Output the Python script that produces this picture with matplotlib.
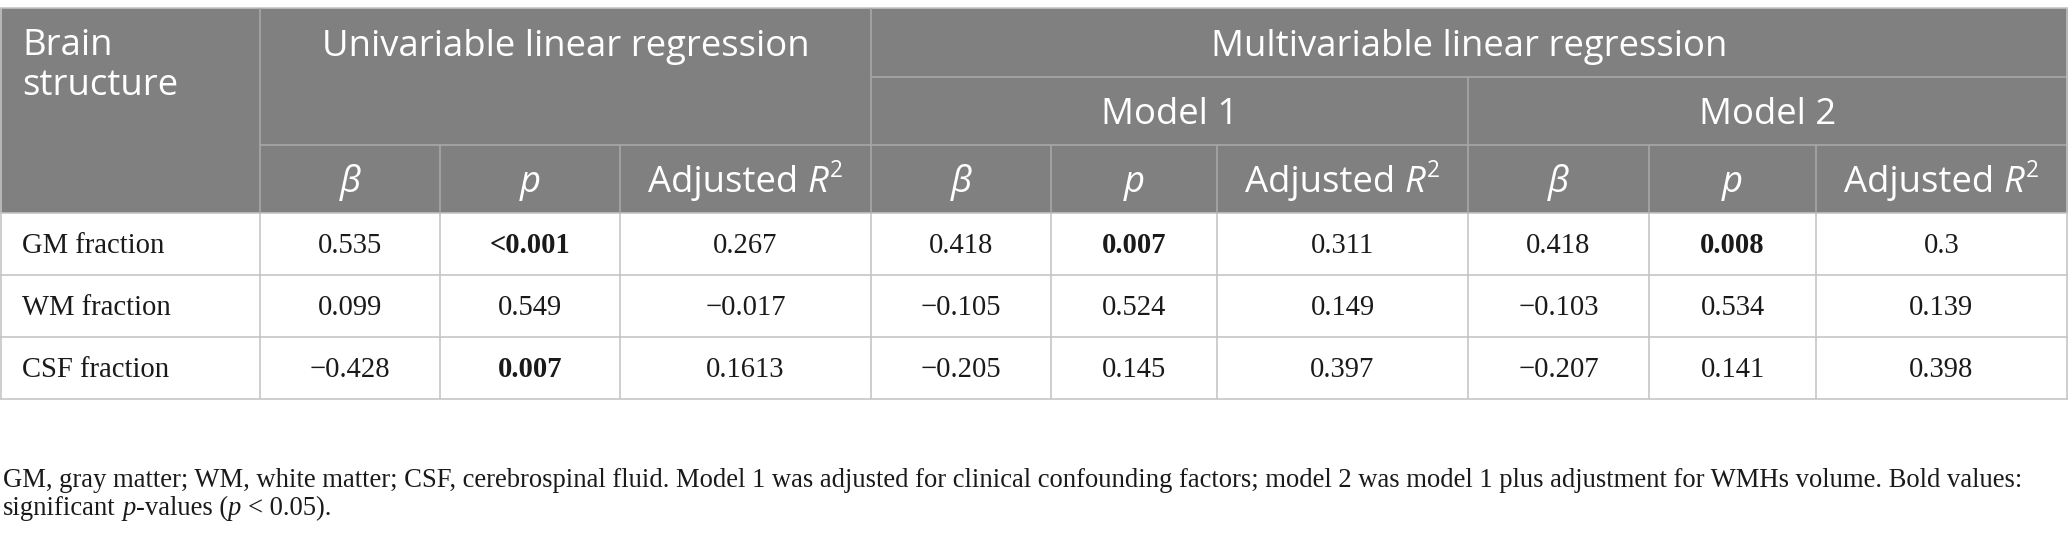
import matplotlib
matplotlib.use("Agg")
import matplotlib.pyplot as plt
from matplotlib.patches import Rectangle

# ---------------- data ----------------
row_labels = ["GM fraction", "WM fraction", "CSF fraction"]
uni_beta = ["0.535", "0.099", "\u22120.428"]
uni_p = ["<0.001", "0.549", "0.007"]
uni_r2 = ["0.267", "\u22120.017", "0.1613"]
m1_beta = ["0.418", "\u22120.105", "\u22120.205"]
m1_p = ["0.007", "0.524", "0.145"]
m1_r2 = ["0.311", "0.149", "0.397"]
m2_beta = ["0.418", "\u22120.103", "\u22120.207"]
m2_p = ["0.008", "0.534", "0.141"]
m2_r2 = ["0.3", "0.139", "0.398"]

group_titles = ["Univariable linear regression", "Multivariable linear regression"]
model_titles = ["Model 1", "Model 2"]
first_header = ["Brain", "structure"]
footnote_line1 = ("GM, gray matter; WM, white matter; CSF, cerebrospinal fluid. Model 1 was adjusted "
                  "for clinical confounding factors; model 2 was model 1 plus adjustment for WMHs volume. Bold values:")

# ---------------- geometry (pixels) ----------------
W, H, DPI = 2068, 543, 100
col_x = [1, 260, 440, 620, 871, 1051, 1217, 1468, 1649, 1816, 2067]
y_top, y_h1, y_h2, y_h3 = 8, 77, 145, 213
y_rows = [213, 275, 337, 399]

HEAD_BG = "#808080"
LINE_HEAD = "#a8a8a8"
LINE_BODY = "#c4c4c4"
LW = 1.6 * 72 / DPI

SANS = ["Open Sans", "DejaVu Sans"]
SERIF = ["Liberation Serif", "DejaVu Serif"]

fig = plt.figure(figsize=(W / DPI, H / DPI), dpi=DPI)
ax = fig.add_axes([0, 0, 1, 1])
ax.set_xlim(0, W)
ax.set_ylim(H, 0)
ax.axis("off")
renderer = fig.canvas.get_renderer()


def text_width(s, **kw):
    t = ax.text(0, 0, s, **kw)
    w = t.get_window_extent(renderer=renderer).width
    t.remove()
    return w


def fit_size(s, target, **kw):
    return 10 * target / text_width(s, fontsize=10, **kw)


sans_size = fit_size(group_titles[0], 488, family=SANS)
foot_size = fit_size(footnote_line1, 2020, family=SERIF)
body_size = fit_size(row_labels[0], 143, family=SERIF)
sans_px = sans_size * DPI / 72
foot_px = foot_size * DPI / 72
body_px = body_size * DPI / 72
sans_cap = 0.714 * sans_px
body_cap = 0.66 * body_px


def draw_runs(x, y, runs, ha="left"):
    """runs: list of (text, kwargs, dy, gap_before_px)"""
    objs, widths = [], []
    for s, kw, dy, gap in runs:
        t = ax.text(0, y + dy, s, va="baseline", ha="left", **kw)
        objs.append((t, gap))
        widths.append(t.get_window_extent(renderer=renderer).width + gap)
    total = sum(widths)
    x0 = x - total / 2 if ha == "center" else x
    for (t, gap), w in zip(objs, widths):
        t.set_x(x0 + gap)
        x0 += w


# ---------------- header background ----------------
ax.add_patch(Rectangle((0, y_top), W, y_h3 - y_top, facecolor=HEAD_BG, edgecolor="none", zorder=0))

# ---------------- lines ----------------
def hline(y, x0, x1, c):
    ax.plot([x0, x1], [y, y], color=c, lw=LW, solid_capstyle="butt", zorder=2)


def vline(x, y0, y1, c):
    ax.plot([x, x], [y0, y1], color=c, lw=LW, solid_capstyle="butt", zorder=2)


hline(y_top, 0, W, LINE_BODY)
hline(y_h1, col_x[4], col_x[-1], LINE_HEAD)
hline(y_h2, col_x[1], col_x[-1], LINE_HEAD)
hline(y_h3, 0, W, LINE_BODY)
for y in y_rows[1:]:
    hline(y, 0, W, LINE_BODY)
vline(col_x[0], y_top, y_rows[-1], LINE_BODY)
vline(col_x[-1], y_top, y_rows[-1], LINE_BODY)
for xi in (col_x[1], col_x[4]):
    vline(xi, y_top, y_h3, LINE_HEAD)
    vline(xi, y_h3, y_rows[-1], LINE_BODY)
vline(col_x[7], y_h1, y_h3, LINE_HEAD)
vline(col_x[7], y_h3, y_rows[-1], LINE_BODY)
for i in (2, 3, 5, 6, 8, 9):
    vline(col_x[i], y_h2, y_h3, LINE_HEAD)
    vline(col_x[i], y_h3, y_rows[-1], LINE_BODY)

# ---------------- header text ----------------
hk = dict(family=SANS, fontsize=sans_size, color="white")
ax.text(22, 55, first_header[0], va="baseline", ha="left", **hk)
ax.text(22, 95, first_header[1], va="baseline", ha="left", **hk)

ax.text((col_x[1] + col_x[4]) / 2, (y_top + y_h1) / 2 + sans_cap / 2, group_titles[0],
        va="baseline", ha="center", **hk)
ax.text((col_x[4] + col_x[-1]) / 2, (y_top + y_h1) / 2 + sans_cap / 2, group_titles[1],
        va="baseline", ha="center", **hk)
ax.text((col_x[4] + col_x[7]) / 2, (y_h1 + y_h2) / 2 + sans_cap / 2, model_titles[0],
        va="baseline", ha="center", **hk)
ax.text((col_x[7] + col_x[-1]) / 2, (y_h1 + y_h2) / 2 + sans_cap / 2, model_titles[1],
        va="baseline", ha="center", **hk)

hk_it = dict(hk, style="italic")
sub_base = (y_h2 + y_h3) / 2 + sans_cap / 2
for g in range(3):
    c0 = 1 + 3 * g
    xc = [(col_x[c0 + k] + col_x[c0 + k + 1]) / 2 for k in range(3)]
    draw_runs(xc[0], sub_base, [("\u03b2", hk_it, 0, 0)], ha="center")
    draw_runs(xc[1], sub_base, [("p", hk_it, 0, 0)], ha="center")
    draw_runs(xc[2], sub_base, [("Adjusted", hk, 0, 0),
                                ("R", hk_it, 0, 0.26 * sans_px),
                                ("2", dict(hk, fontsize=sans_size * 0.62), -0.42 * sans_px, 1)],
              ha="center")

# ---------------- body ----------------
def is_sig(s):
    if s.startswith("<"):
        return True
    return float(s) < 0.05


bk = dict(family=SERIF, fontsize=body_size, color="#1a1a1a")
columns = [uni_beta, uni_p, uni_r2, m1_beta, m1_p, m1_r2, m2_beta, m2_p, m2_r2]
p_cols = {1, 4, 7}
for r in range(3):
    base = (y_rows[r] + y_rows[r + 1]) / 2 + body_cap / 2
    ax.text(22, base, row_labels[r], va="baseline", ha="left", **bk)
    for c, vals in enumerate(columns):
        xc = (col_x[c + 1] + col_x[c + 2]) / 2
        kw = dict(bk)
        if c in p_cols and is_sig(vals[r]):
            kw["weight"] = "bold"
        ax.text(xc, base, vals[r], va="baseline", ha="center", **kw)

# ---------------- footnote ----------------
fk = dict(family=SERIF, fontsize=foot_size, color="#1a1a1a")
fk_it = dict(fk, style="italic")
ax.text(3, 487, footnote_line1, va="baseline", ha="left", **fk)
sp = 0.25 * foot_px
draw_runs(3, 515, [("significant", fk, 0, 0),
                   ("p", fk_it, 0, sp),
                   ("-values (", fk, 0, 0),
                   ("p", fk_it, 0, 0),
                   ("< 0.05).", fk, 0, sp)])

fig.savefig("out.png", dpi=DPI, facecolor="white")
